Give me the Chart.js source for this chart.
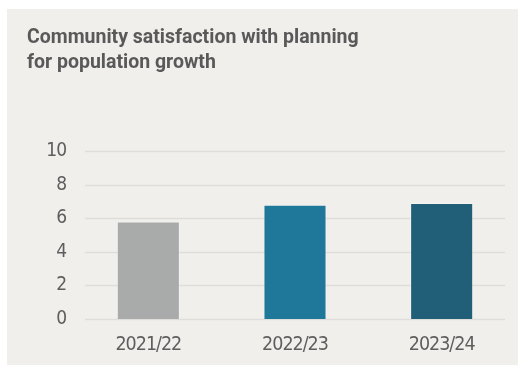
<!DOCTYPE html>
<html>
<head>
<meta charset="utf-8">
<script src="https://cdn.jsdelivr.net/npm/chart.js@4.4.1/dist/chart.umd.min.js"></script>
<style>
  html, body { margin: 0; padding: 0; background: #ffffff; }
  .panel {
    position: absolute;
    left: 7px; top: 9px;
    width: 511px; height: 356px;
    background: #f0efec;
  }
  canvas { display: block; }
</style>
</head>
<body>
<div class="panel">
  <canvas id="grafik" width="511" height="356"></canvas>
</div>
<script>
const tahun = ["2021/22", "2022/23", "2023/24"];
const skor = [5.8, 6.8, 6.9];
const warnaBatang = ["#a9abaa", "#1f7799", "#215e78"];
const tickY = [0, 2, 4, 6, 8, 10];

const fontAngka = "'Liberation Sans Narrow', 'DejaVu Sans Condensed', 'Roboto', sans-serif";

// garis bantu horizontal, sedikit lebih pendek dari area chart
const gridPendek = {
  id: 'gridPendek',
  beforeDatasetsDraw(chart) {
    const { ctx, chartArea, scales } = chart;
    ctx.save();
    ctx.strokeStyle = '#dfddd9';
    ctx.lineWidth = 1.5;
    tickY.forEach(v => {
      const y = Math.round(scales.y.getPixelForValue(v)) + 0.5;
      ctx.beginPath();
      ctx.moveTo(chartArea.left + 10, y);
      ctx.lineTo(chartArea.right - 10, y);
      ctx.stroke();
    });
    ctx.restore();
  },
  // label sumbu digambar setelah batang (ticks.z = 1), dirapatkan sedikit
  afterDatasetsDraw(chart) {
    chart.ctx.letterSpacing = '-1px';
  },
  afterDraw(chart) {
    chart.ctx.letterSpacing = '0px';
  }
};

const ctx = document.getElementById('grafik').getContext('2d');
new Chart(ctx, {
  type: 'bar',
  data: {
    labels: tahun,
    datasets: [{
      data: skor,
      backgroundColor: warnaBatang,
      borderColor: 'rgba(255,255,255,0.3)',
      borderWidth: 1,
      barPercentage: 0.43,
      categoryPercentage: 1
    }]
  },
  options: {
    responsive: false,
    animation: false,
    layout: { padding: { left: 20, right: 3, top: 0, bottom: 0 } },
    plugins: {
      legend: { display: false },
      tooltip: { enabled: false },
      title: {
        display: true,
        text: ["Community satisfaction with planning", "for population growth"],
        align: 'start',
        color: '#595959',
        font: { family: "'Roboto', sans-serif", size: 19.5, weight: 'bold', lineHeight: 1.282 },
        padding: { top: 17, bottom: 75 }
      }
    },
    scales: {
      x: {
        grid: { display: false, drawTicks: false },
        border: { display: false },
        ticks: {
          z: 1,
          color: '#5e5e5e',
          font: { family: fontAngka, size: 19.5 },
          padding: 14
        },
        afterFit(scale) { scale.height = 46; }
      },
      y: {
        min: 0,
        max: 10,
        grid: { display: false, drawTicks: false },
        border: { display: false },
        afterBuildTicks(scale) { scale.ticks = tickY.map(v => ({ value: v })); },
        ticks: {
          z: 1,
          color: '#5e5e5e',
          font: { family: fontAngka, size: 19 },
          padding: 9
        },
        afterFit(scale) { scale.width = 48; }
      }
    }
  },
  plugins: [gridPendek]
});
</script>
</body>
</html>
